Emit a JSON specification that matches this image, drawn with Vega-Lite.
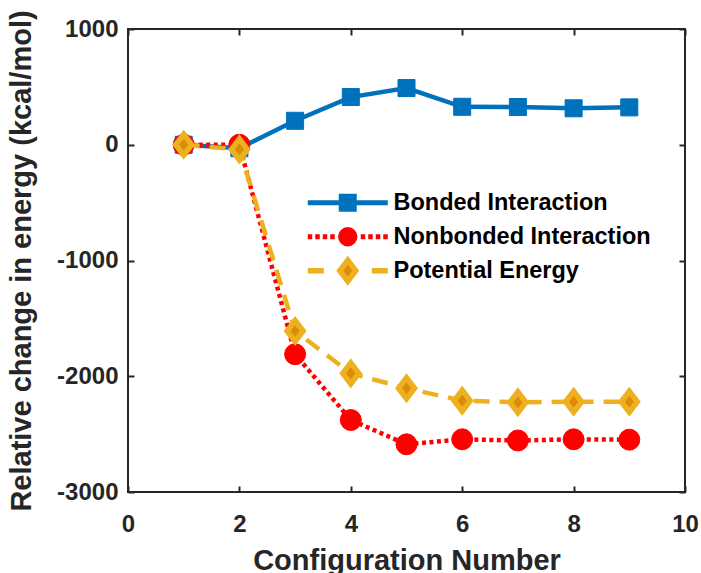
{
  "$schema": "https://vega.github.io/schema/vega-lite/v6.json",
  "width": 557,
  "height": 463,
  "autosize": {"type": "none"},
  "padding": {"left": 128, "top": 29, "right": 16, "bottom": 81},
  "background": "white",
  "config": {
    "view": {"stroke": "#262626", "strokeWidth": 2},
    "font": "Liberation Sans",
    "axis": {
      "grid": false,
      "domain": false,
      "labelFlush": false,
      "tickColor": "#262626",
      "tickWidth": 2,
      "tickSize": -6,
      "labelFont": "Liberation Sans",
      "labelFontSize": 24,
      "labelFontWeight": "bold",
      "labelColor": "#262626",
      "titleFont": "Liberation Sans",
      "titleFontSize": 29,
      "titleFontWeight": "bold",
      "titleColor": "#262626"
    }
  },
  "data": {
    "values": [
      {"series": "Bonded Interaction", "x": 1, "y": 0},
      {"series": "Bonded Interaction", "x": 2, "y": -30},
      {"series": "Bonded Interaction", "x": 3, "y": 207},
      {"series": "Bonded Interaction", "x": 4, "y": 412},
      {"series": "Bonded Interaction", "x": 5, "y": 490},
      {"series": "Bonded Interaction", "x": 6, "y": 328},
      {"series": "Bonded Interaction", "x": 7, "y": 326},
      {"series": "Bonded Interaction", "x": 8, "y": 315},
      {"series": "Bonded Interaction", "x": 9, "y": 323},
      {"series": "Nonbonded Interaction", "x": 1, "y": 0},
      {"series": "Nonbonded Interaction", "x": 2, "y": 0},
      {"series": "Nonbonded Interaction", "x": 3, "y": -1810},
      {"series": "Nonbonded Interaction", "x": 4, "y": -2378},
      {"series": "Nonbonded Interaction", "x": 5, "y": -2588},
      {"series": "Nonbonded Interaction", "x": 6, "y": -2545},
      {"series": "Nonbonded Interaction", "x": 7, "y": -2555},
      {"series": "Nonbonded Interaction", "x": 8, "y": -2545},
      {"series": "Nonbonded Interaction", "x": 9, "y": -2548},
      {"series": "Potential Energy", "x": 1, "y": 0},
      {"series": "Potential Energy", "x": 2, "y": -40},
      {"series": "Potential Energy", "x": 3, "y": -1609},
      {"series": "Potential Energy", "x": 4, "y": -1975},
      {"series": "Potential Energy", "x": 5, "y": -2104},
      {"series": "Potential Energy", "x": 6, "y": -2211},
      {"series": "Potential Energy", "x": 7, "y": -2225},
      {"series": "Potential Energy", "x": 8, "y": -2220},
      {"series": "Potential Energy", "x": 9, "y": -2220}
    ]
  },
  "layer": [
    {
      "transform": [{"filter": "datum.series === 'Bonded Interaction'"}],
      "mark": {"type": "line", "strokeWidth": 4.5},
      "encoding": {
        "x": {
          "field": "x", "type": "quantitative",
          "scale": {"domain": [0, 10], "nice": false, "zero": false},
          "axis": {"orient": "bottom", "values": [0, 2, 4, 6, 8, 10], "labelPadding": 26, "title": "Configuration Number", "titlePadding": 10}
        },
        "y": {
          "field": "y", "type": "quantitative",
          "scale": {"domain": [-3000, 1000], "nice": false, "zero": false},
          "axis": {"orient": "left", "values": [-3000, -2000, -1000, 0, 1000], "labelExpr": "datum.value + ''", "labelPadding": 16, "title": "Relative change in energy (kcal/mol)", "titlePadding": 20}
        },
        "color": {
          "field": "series", "type": "nominal",
          "scale": {"domain": ["Bonded Interaction", "Nonbonded Interaction", "Potential Energy"], "range": ["#0072BD", "#FF0000", "#EDB120"]},
          "legend": {
            "title": null,
            "orient": "none",
            "legendX": 208,
            "legendY": 162,
            "padding": 0,
            "symbolSize": 400,
            "labelOffset": 34,
            "labelFont": "Liberation Sans",
            "labelFontSize": 23.5,
            "labelFontWeight": "bold",
            "labelColor": "#000000",
            "labelLimit": 400,
            "gridAlign": "all",
            "rowPadding": -13.5,
            "encode": {
              "symbols": {
                "update": {
                  "shape": {"signal": "datum.value === 'Bonded Interaction' ? 'M-4,0H4M-0.65,-0.65H0.65V0.65H-0.65Z' : datum.value === 'Nonbonded Interaction' ? 'M-4,0H-3.55M-3.25,0H-2.8M-2.5,0H-2.05M-1.75,0H-1.3M1.3,0H1.75M2.05,0H2.5M2.8,0H3.25M3.55,0H4M0.72,0C0.72,0.4,0.4,0.72,0,0.72C-0.4,0.72,-0.72,0.4,-0.72,0C-0.72,-0.4,-0.4,-0.72,0,-0.72C0.4,-0.72,0.72,-0.4,0.72,0Z' : 'M-4,0H-2.4M2.4,0H4M0,-1.05L0.8,0L0,1.05L-0.8,0Z'"},
                  "fill": {"signal": "datum.value === 'Potential Energy' ? '#DC8A0A' : datum.value === 'Bonded Interaction' ? '#0072BD' : '#FF0000'"},
                  "stroke": {"signal": "datum.value === 'Potential Energy' ? '#EDB120' : datum.value === 'Bonded Interaction' ? '#0072BD' : '#FF0000'"},
                  "strokeWidth": {"signal": "datum.value === 'Potential Energy' ? 5.5 : datum.value === 'Bonded Interaction' ? 5 : 5"},
                  "size": {"value": 400},
                  "opacity": {"value": 1},
                  "fillOpacity": {"value": 1},
                  "strokeOpacity": {"value": 1}
                }
              }
            }
          }
        }
      }
    },
    {
      "transform": [{"filter": "datum.series === 'Bonded Interaction'"}],
      "mark": {"type": "point", "shape": "square", "filled": true, "fill": "#0072BD", "stroke": "#0072BD", "strokeWidth": 1, "size": 290, "opacity": 1},
      "encoding": {
        "x": {
          "field": "x", "type": "quantitative",
          "scale": {"domain": [0, 10], "nice": false, "zero": false},
          "axis": {"orient": "top", "values": [0, 2, 4, 6, 8, 10], "labels": false, "title": null}
        },
        "y": {
          "field": "y", "type": "quantitative",
          "scale": {"domain": [-3000, 1000], "nice": false, "zero": false},
          "axis": {"orient": "right", "values": [-3000, -2000, -1000, 0, 1000], "labels": false, "title": null}
        }
      }
    },
    {
      "transform": [{"filter": "datum.series === 'Nonbonded Interaction'"}],
      "mark": {"type": "line", "strokeWidth": 4.5, "color": "#FF0000", "strokeDash": [4, 3.5]},
      "encoding": {
        "x": {"field": "x", "type": "quantitative", "scale": {"domain": [0, 10], "nice": false, "zero": false}, "axis": null},
        "y": {"field": "y", "type": "quantitative", "scale": {"domain": [-3000, 1000], "nice": false, "zero": false}, "axis": null}
      }
    },
    {
      "transform": [{"filter": "datum.series === 'Nonbonded Interaction'"}],
      "mark": {"type": "point", "shape": "circle", "filled": true, "fill": "#FF0000", "stroke": "#FF0000", "strokeWidth": 1, "size": 440, "opacity": 1},
      "encoding": {
        "x": {"field": "x", "type": "quantitative", "scale": {"domain": [0, 10], "nice": false, "zero": false}, "axis": null},
        "y": {"field": "y", "type": "quantitative", "scale": {"domain": [-3000, 1000], "nice": false, "zero": false}, "axis": null}
      }
    },
    {
      "transform": [{"filter": "datum.series === 'Potential Energy'"}],
      "mark": {"type": "line", "strokeWidth": 4.5, "color": "#EDB120", "strokeDash": [16, 10]},
      "encoding": {
        "x": {"field": "x", "type": "quantitative", "scale": {"domain": [0, 10], "nice": false, "zero": false}, "axis": null},
        "y": {"field": "y", "type": "quantitative", "scale": {"domain": [-3000, 1000], "nice": false, "zero": false}, "axis": null}
      }
    },
    {
      "transform": [{"filter": "datum.series === 'Potential Energy'"}],
      "mark": {"type": "point", "shape": "M0,-1.05L0.8,0L0,1.05L-0.8,0Z", "filled": true, "fill": "#DC8A0A", "stroke": "#EDB120", "strokeWidth": 5.5, "size": 400, "opacity": 1, "fillOpacity": 1, "strokeOpacity": 1},
      "encoding": {
        "x": {"field": "x", "type": "quantitative", "scale": {"domain": [0, 10], "nice": false, "zero": false}, "axis": null},
        "y": {"field": "y", "type": "quantitative", "scale": {"domain": [-3000, 1000], "nice": false, "zero": false}, "axis": null}
      }
    }
  ],
  "resolve": {"axis": {"x": "independent", "y": "independent"}}
}
